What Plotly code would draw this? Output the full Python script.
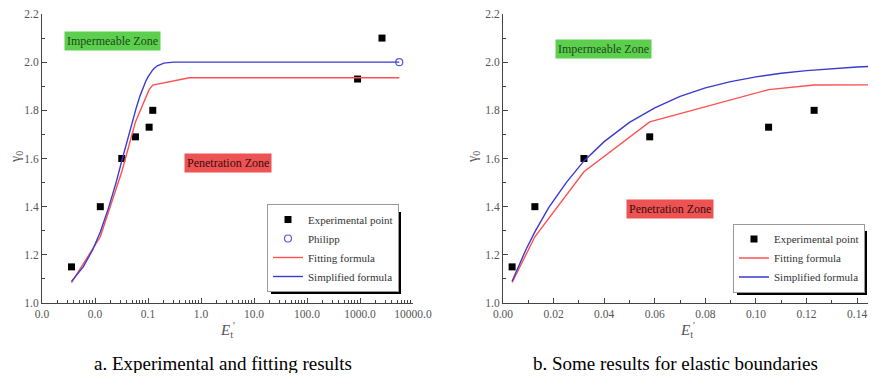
import plotly.graph_objects as go

# ---------------- data ----------------
exp_x = [0.0036, 0.0126, 0.032, 0.058, 0.105, 0.123, 900, 2600]
exp_y = [1.15, 1.40, 1.60, 1.69, 1.73, 1.80, 1.93, 2.10]

exp_b_x = [0.0036, 0.0126, 0.032, 0.058, 0.105, 0.123]
exp_b_y = [1.15, 1.40, 1.60, 1.69, 1.73, 1.80]

philipp_x = [5500]
philipp_y = [2.0]

fit_x = [0.0036, 0.0126, 0.032, 0.058, 0.105, 0.123, 0.6, 5500]
fit_y = [1.085, 1.275, 1.545, 1.752, 1.886, 1.905, 1.935, 1.935]

simp_x = [0.0036, 0.006, 0.009, 0.0126, 0.018, 0.025, 0.032, 0.04, 0.05, 0.06,
          0.07, 0.08, 0.09, 0.10, 0.11, 0.12, 0.13, 0.14, 0.15, 0.2, 0.3, 0.5,
          1, 10, 100, 1000, 5500]
simp_y = [1.09, 1.15, 1.22, 1.295, 1.395, 1.50, 1.59, 1.67, 1.75, 1.81,
          1.858, 1.893, 1.919, 1.939, 1.954, 1.965, 1.974, 1.98, 1.985, 1.996, 2.0, 2.0,
          2.0, 2.0, 2.0, 2.0, 2.0]

log_tickvals = [0.001, 0.01, 0.1, 1, 10, 100, 1000, 10000]
log_ticktext = ["0.0", "0.0", "0.1", "1.0", "10.0", "100.0", "1000.0", "10000.0"]

# ---------------- styling ----------------
# page body has an 8px margin, so the figure is 860x365 and sits at (8, 8)
OFF = 8
W, H = 860, 365
MT, MB = 6, 70
PH = H - MT - MB
SERIF = "Liberation Serif, Times New Roman, serif"
RED = "#ff5050"
BLUE = "#3a3ad0"
AX = "#444444"


def py(p):  # window pixel y -> paper y
    return (H - MB - (p - OFF)) / PH


def px(p):  # window pixel x -> paper x
    return (p - OFF) / W


log_minor = [m * d for d in log_tickvals[:-1] for m in range(2, 10)]

fig = go.Figure()

# left panel
fig.add_trace(go.Scatter(x=exp_x, y=exp_y, mode="markers", name="Experimental point",
                         marker=dict(symbol="square", size=7, color="black"),
                         xaxis="x", yaxis="y", legend="legend"))
fig.add_trace(go.Scatter(x=philipp_x, y=philipp_y, mode="markers", name="Philipp",
                         marker=dict(symbol="circle-open", size=7, color="#5a5ae0", line=dict(width=1.2)),
                         xaxis="x", yaxis="y", legend="legend", cliponaxis=False))
fig.add_trace(go.Scatter(x=fit_x, y=fit_y, mode="lines", name="Fitting formula",
                         line=dict(color=RED, width=1.4), xaxis="x", yaxis="y", legend="legend"))
fig.add_trace(go.Scatter(x=simp_x, y=simp_y, mode="lines", name="Simplified formula",
                         line=dict(color=BLUE, width=1.4), xaxis="x", yaxis="y", legend="legend"))

# right panel
fig.add_trace(go.Scatter(x=exp_b_x, y=exp_b_y, mode="markers", name="Experimental point",
                         marker=dict(symbol="square", size=7, color="black"),
                         xaxis="x2", yaxis="y2", legend="legend2"))
fig.add_trace(go.Scatter(x=fit_x, y=fit_y, mode="lines", name="Fitting formula",
                         line=dict(color=RED, width=1.4), xaxis="x2", yaxis="y2", legend="legend2"))
fig.add_trace(go.Scatter(x=simp_x, y=simp_y, mode="lines", name="Simplified formula",
                         line=dict(color=BLUE, width=1.4), xaxis="x2", yaxis="y2", legend="legend2"))

common_axis = dict(showline=True, linecolor=AX, linewidth=1, ticks="inside", ticklen=5,
                   tickcolor=AX, showgrid=False, zeroline=False, automargin=False,
                   ticklabeloverflow="allow",
                   tickfont=dict(family=SERIF, size=11.5, color="#555555"))

yax = dict(common_axis, range=[1.0, 2.2], dtick=0.2, tick0=1.0, tickformat=".1f",
           minor=dict(ticks="inside", ticklen=3, dtick=0.1, tickcolor=AX))

legend_style = dict(xanchor="left", yanchor="middle", bgcolor="white", bordercolor="#999999",
                    borderwidth=1, font=dict(family=SERIF, size=11, color="#333333"),
                    tracegroupgap=0, itemwidth=30)

fig.update_layout(
    width=W, height=H,
    margin=dict(l=0, r=0, t=MT, b=MB, autoexpand=False),
    paper_bgcolor="white", plot_bgcolor="white",
    xaxis=dict(common_axis, type="log", range=[-3, 4], domain=[px(42), px(413)],
               tickmode="array", tickvals=log_tickvals, ticktext=log_ticktext,
               minor=dict(ticks="inside", ticklen=3, tickmode="array", tickvals=log_minor,
                          tickcolor=AX),
               anchor="y"),
    yaxis=dict(yax, anchor="x"),
    xaxis2=dict(common_axis, range=[0, 0.1443], dtick=0.02, tick0=0, tickformat=".2f",
                domain=[px(503), 1.0],
                minor=dict(ticks="inside", ticklen=3, dtick=0.01, tickcolor=AX),
                anchor="y2"),
    yaxis2=dict(yax, anchor="x2"),
    legend=dict(legend_style, x=px(267), y=py(248)),
    legend2=dict(legend_style, x=px(733), y=py(258)),
    showlegend=True,
)

# legend shadows
fig.add_shape(type="rect", xref="paper", yref="paper", x0=px(271), x1=px(401),
              y0=py(294), y1=py(212), fillcolor="black", line=dict(width=0), layer="above")
fig.add_shape(type="rect", xref="paper", yref="paper", x0=px(737), x1=px(867),
              y0=py(295), y1=py(231), fillcolor="black", line=dict(width=0), layer="above")

ann = []
# zone labels
for cx, cy, txt, bg, fc in [
    (112, 41, "Impermeable Zone", "#5ccf4e", "#1d4a17"),
    (228, 163, "Penetration Zone", "#ee5353", "#3a0c0c"),
    (603, 49, "Impermeable Zone", "#5ccf4e", "#1d4a17"),
    (670, 209, "Penetration Zone", "#ee5353", "#3a0c0c"),
]:
    ann.append(dict(x=px(cx), y=py(cy), text=txt, bgcolor=bg, borderpad=2,
                    font=dict(family=SERIF, size=12, color=fc)))
# axis titles
for cx in (16, 473):
    ann.append(dict(x=px(cx), y=py(157), text="γ<sub>0</sub>", textangle=-90,
                    font=dict(family=SERIF, size=14, color="#555555")))
for cx in (227, 687):
    ann.append(dict(x=px(cx), y=py(330), text="<i>E</i><sub>t</sub><sup>'</sup>",
                    font=dict(family=SERIF, size=15, color="#555555")))
# captions
ann.append(dict(x=px(223), y=py(363), text="a. Experimental and fitting results",
                font=dict(family=SERIF, size=19, color="black")))
ann.append(dict(x=px(675), y=py(363), text="b. Some results for elastic boundaries",
                font=dict(family=SERIF, size=19, color="black")))
for a in ann:
    a.update(xref="paper", yref="paper", showarrow=False, xanchor="center", yanchor="middle")
fig.update_layout(annotations=ann)

fig.write_html("out.html")
